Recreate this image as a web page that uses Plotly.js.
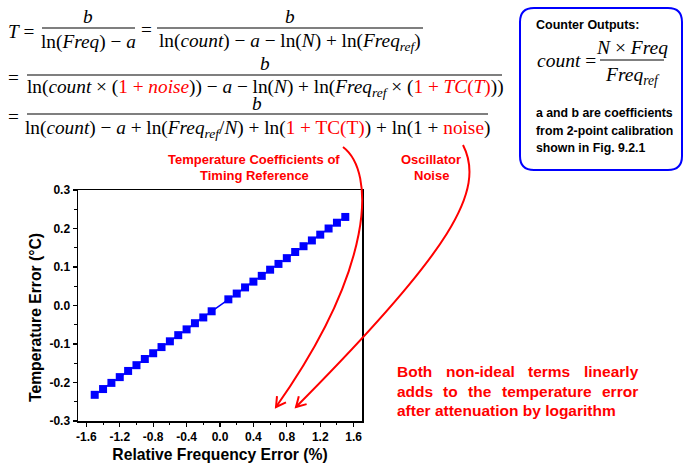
<!DOCTYPE html>
<html>
<head>
<meta charset="utf-8">
<script src="https://cdn.plot.ly/plotly-3.0.1.min.js"></script>
<style>
html,body{margin:0;padding:0;background:#fff;}
#chart{width:687px;height:463px;}
</style>
</head>
<body>
<div id="chart"></div>
<script>
// ---------------- data ----------------
const relFreqErr = [-1.5,-1.4,-1.3,-1.2,-1.1,-1.0,-0.9,-0.8,-0.7,-0.6,-0.5,-0.4,-0.3,-0.2,-0.1,
                     0.1,0.2,0.3,0.4,0.5,0.6,0.7,0.8,0.9,1.0,1.1,1.2,1.3,1.4,1.5];
const tempErr = [-0.232,-0.217,-0.201,-0.186,-0.170,-0.155,-0.139,-0.124,-0.108,-0.093,-0.077,-0.062,-0.046,-0.031,-0.015,
                  0.016,0.031,0.047,0.062,0.077,0.093,0.108,0.123,0.139,0.154,0.169,0.184,0.200,0.215,0.230];
const xTickVals = [-1.6,-1.2,-0.8,-0.4,0,0.4,0.8,1.2,1.6];
const xTickText = ['-1.6','-1.2','-0.8','-0.4','0.0','0.4','0.8','1.2','1.6'];
const yTickVals = [-0.3,-0.2,-0.1,0,0.1,0.2,0.3];
const yTickText = ['-0.3','-0.2','-0.1','0.0','0.1','0.2','0.3'];
const xTitle = 'Relative Frequency Error (%)';
const yTitle = 'Temperature Error (°C)';

// ---------------- helpers ----------------
const W = 687, H = 463;
const PL = 78, PR = 362, PT = 190, PB = 421; // plot area in pixels
const px = X => (X - PL) / (PR - PL);
const py = Y => (PB - Y) / (PB - PT);
const SANS = 'Liberation Sans, Arial, sans-serif';
const SERIF = 'Liberation Serif, Times New Roman, serif';
const RED = '#ff0000';
const BLUE = '#0000ff';
const EQ = 19.3;

const annotations = [];
const shapes = [];
function txt(X, Y, text, opt) {
  opt = opt || {};
  annotations.push({
    xref: 'paper', yref: 'paper', x: px(X), y: py(Y), text: text, showarrow: false,
    xanchor: opt.xa || 'center', yanchor: opt.ya || 'middle', align: opt.align || 'center',
    borderpad: 0, borderwidth: 0, textangle: opt.angle || 0,
    font: {family: opt.family || SERIF, size: opt.size || EQ, color: opt.color || '#000', weight: opt.weight || 'normal'}
  });
}
function hline(X1, X2, Y, color, w) {
  shapes.push({type: 'line', xref: 'paper', yref: 'paper', x0: px(X1), x1: px(X2), y0: py(Y), y1: py(Y),
    line: {color: color || '#000', width: w || 1.2}});
}
function pathPx(cmds, color, w) {
  const d = cmds.map(c => {
    const L = c[0]; const pts = [];
    for (let i = 1; i < c.length; i += 2) pts.push(px(c[i]) + ',' + py(c[i + 1]));
    return L + pts.join(' ');
  }).join(' ');
  shapes.push({type: 'path', xref: 'paper', yref: 'paper', path: d, line: {color: color, width: w}});
}
function arrowCurve(P0, C1, C2, P3, color) {
  pathPx([['M', P0[0], P0[1]], ['C', C1[0], C1[1], C2[0], C2[1], P3[0], P3[1]]], color, 2);
  let dx = P3[0] - C2[0], dy = P3[1] - C2[1];
  const n = Math.hypot(dx, dy); dx /= n; dy /= n;
  const len = 11, a = Math.PI / 6;
  const w1 = [P3[0] - len * (dx * Math.cos(a) - dy * Math.sin(a)), P3[1] - len * (dx * Math.sin(a) + dy * Math.cos(a))];
  const w2 = [P3[0] - len * (dx * Math.cos(-a) - dy * Math.sin(-a)), P3[1] - len * (dx * Math.sin(-a) + dy * Math.cos(-a))];
  pathPx([['M', w1[0], w1[1]], ['L', P3[0], P3[1]], ['L', w2[0], w2[1]]], color, 2);
}
const cv = document.createElement('canvas').getContext('2d');
function justified(words, X1, X2, Y, size) {
  cv.font = 'bold ' + size + 'px "Liberation Sans"';
  const ws = words.map(w => cv.measureText(w).width);
  const gap = (X2 - X1 - ws.reduce((a, b) => a + b, 0)) / (words.length - 1);
  let x = X1;
  words.forEach((w, i) => {
    txt(x, Y, w, {xa: 'left', family: SANS, size: size, color: RED, weight: 'bold'});
    x += ws[i] + gap;
  });
}
const r = s => "<span style='color:#ff0000'>" + s + "</span>";

// ---------------- equations ----------------
txt(8, 31, '<i>T</i> =', {xa: 'left'});
txt(88, 17, '<i>b</i>');
hline(42, 135, 28);
txt(88, 42, 'ln(<i>Freq</i>) − <i>a</i>');
txt(146, 30, '=');
txt(290, 17, '<i>b</i>');
hline(157, 423, 28);
txt(290, 42, 'ln(<i>count</i>) − <i>a</i> − ln(<i>N</i>) + ln(<i>Freq</i><sub><i>ref</i></sub>)');

txt(8, 77, '=', {xa: 'left'});
txt(265, 63, '<i>b</i>');
hline(27, 502, 75);
txt(265, 88, 'ln(<i>count</i> × (' + r('1 + <i>noise</i>') + ')) − <i>a</i> − ln(<i>N</i>) + ln(<i>Freq</i><sub><i>ref</i></sub> × (' + r('1 + <i>TC</i>(<i>T</i>)') + '))');

txt(8, 117, '=', {xa: 'left'});
txt(257, 103, '<i>b</i>');
hline(27, 488, 114);
txt(257, 129, 'ln(<i>count</i>) − <i>a</i> + ln(<i>Freq</i><sub><i>ref</i></sub>/<i>N</i>) + ln(' + r('1 + TC(T)') + ') + ln(1 + ' + r('noise') + ')');

// ---------------- counter box ----------------
(function () {
  const X1 = 520, Y1 = 8, X2 = 682, Y2 = 170, R = 14;
  pathPx([['M', X1 + R, Y1], ['L', X2 - R, Y1], ['Q', X2, Y1, X2, Y1 + R], ['L', X2, Y2 - R], ['Q', X2, Y2, X2 - R, Y2],
          ['L', X1 + R, Y2], ['Q', X1, Y2, X1, Y2 - R], ['L', X1, Y1 + R], ['Q', X1, Y1, X1 + R, Y1]], BLUE, 2);
})();
txt(536, 25, 'Counter Outputs:', {xa: 'left', family: SANS, size: 12.5, weight: 'bold'});
txt(596, 61, '<i>count</i> =', {xa: 'right', size: 19.5});
txt(632, 47, '<i>N</i> × <i>Freq</i>', {size: 19.5});
hline(600, 664, 60);
txt(632, 76, '<i>Freq</i><sub><i>ref</i></sub>', {size: 19.5});
txt(536, 113, 'a and b are coefficients', {xa: 'left', family: SANS, size: 12.3, weight: 'bold'});
txt(536, 131, 'from 2-point calibration', {xa: 'left', family: SANS, size: 12.3, weight: 'bold'});
txt(536, 148, 'shown in Fig. 9.2.1', {xa: 'left', family: SANS, size: 12.3, weight: 'bold'});

// ---------------- red labels ----------------
txt(254, 159, 'Temperature Coefficients of', {family: SANS, size: 13, color: RED, weight: 'bold'});
txt(254, 175, 'Timing Reference', {family: SANS, size: 13, color: RED, weight: 'bold'});
txt(431, 159, 'Oscillator', {family: SANS, size: 13, color: RED, weight: 'bold'});
txt(431, 175, 'Noise', {family: SANS, size: 13, color: RED, weight: 'bold'});
justified(['Both', 'non-ideal', 'terms', 'linearly'], 397, 638, 371, 15.5);
justified(['adds', 'to', 'the', 'temperature', 'error'], 397, 638, 391, 15.5);
txt(397, 410, 'after attenuation by logarithm', {xa: 'left', family: SANS, size: 15.5, color: RED, weight: 'bold'});

// arrows
arrowCurve([343, 147], [376, 172], [374, 268], [276, 407], RED);
arrowCurve([463, 145], [486, 190], [452, 250], [296, 407], RED);

// y axis title
txt(35, 318, yTitle, {family: SANS, size: 15.7, weight: 'bold', angle: -90});

// ---------------- plot ----------------
const trace = {
  x: relFreqErr, y: tempErr, type: 'scatter', mode: 'lines+markers',
  line: {color: BLUE, width: 1.5},
  marker: {symbol: 'square', size: 8, color: BLUE},
  showlegend: false, hoverinfo: 'x+y'
};
const tickfont = {family: SANS, size: 12, color: '#000', weight: 'bold'};
const layout = {
  width: W, height: H,
  margin: {l: PL, r: W - PR, t: PT, b: H - PB},
  paper_bgcolor: '#fff', plot_bgcolor: '#fff',
  showlegend: false,
  xaxis: {
    range: [-1.7, 1.7], tickvals: xTickVals, ticktext: xTickText,
    showgrid: false, zeroline: false, showline: true, mirror: true, linecolor: '#000', linewidth: 1.5,
    ticks: 'outside', ticklen: 4, tickwidth: 1.2, tickcolor: '#000', tickfont: tickfont,
    minor: {dtick: 0.2, tick0: 0, ticks: 'outside', ticklen: 2.5, tickwidth: 1, tickcolor: '#000', showgrid: false},
    title: {text: xTitle, font: {family: SANS, size: 15.7, color: '#000', weight: 'bold'}, standoff: 6},
    automargin: false
  },
  yaxis: {
    range: [-0.3, 0.3], tickvals: yTickVals, ticktext: yTickText,
    showgrid: false, zeroline: false, showline: true, mirror: true, linecolor: '#000', linewidth: 1.5,
    ticks: 'outside', ticklen: 4, tickwidth: 1.2, tickcolor: '#000', tickfont: tickfont,
    minor: {dtick: 0.05, tick0: 0, ticks: 'outside', ticklen: 2.5, tickwidth: 1, tickcolor: '#000', showgrid: false},
    automargin: false
  },
  annotations: annotations,
  shapes: shapes
};
Plotly.newPlot('chart', [trace], layout, {displayModeBar: false, staticPlot: true});
</script>
</body>
</html>
